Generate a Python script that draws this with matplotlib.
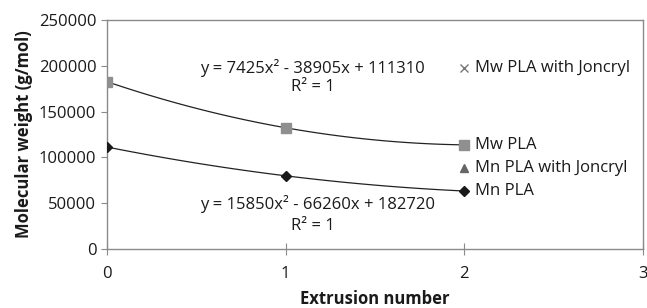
import numpy as np
import matplotlib
matplotlib.use("Agg")
import matplotlib.pyplot as plt

plt.rcParams['font.family'] = ['Open Sans', 'DejaVu Sans']

# data
extrusion = [0, 1, 2]
mw_pla = [182720, 132310, 113600]
mn_pla = [111310, 79830, 63200]
# single points shown at the last extrusion
mw_joncryl = [197500]
mn_joncryl = [88500]
x_last = [2]

eq_mw = "y = 7425x² - 38905x + 111310"
eq_mn = "y = 15850x² - 66260x + 182720"

fig = plt.figure(figsize=(6.47, 3.08), dpi=100)
ax = fig.add_axes([0.165, 0.192, 0.829, 0.743])

# trend lines
xs = np.linspace(0, 2, 100)
for vals in (mw_pla, mn_pla):
    p = np.polyfit(extrusion, vals, 2)
    ax.plot(xs, np.polyval(p, xs), color='#222222', lw=0.9, zorder=2)

ax.plot(extrusion, mw_pla, ls='none', marker='s', ms=7, color='#8f8f8f', zorder=3)
ax.plot(extrusion, mn_pla, ls='none', marker='D', ms=5, color='#1a1a1a', zorder=3)
ax.plot(x_last, mw_joncryl, ls='none', marker='x', ms=6, mew=1, color='#777777')
ax.plot(x_last, mn_joncryl, ls='none', marker='^', ms=6, color='#666666')

# point labels
lab_kw = dict(fontsize=12, color='#1a1a1a', va='center', ha='left')
ax.text(x_last[0] + 0.06, mw_joncryl[0], "Mw PLA with Joncryl", **lab_kw)
ax.text(x_last[0] + 0.06, mw_pla[-1], "Mw PLA", **lab_kw)
ax.text(x_last[0] + 0.06, mn_joncryl[0], "Mn PLA with Joncryl", **lab_kw)
ax.text(x_last[0] + 0.06, mn_pla[-1], "Mn PLA", **lab_kw)

# equations
ax.text(0.52, 197500, eq_mw, fontsize=12, color='#1a1a1a', va='center', ha='left')
ax.text(1.03, 176500, "R² = 1", fontsize=12, color='#1a1a1a', va='center', ha='left')
ax.text(0.52, 48500, eq_mn, fontsize=12, color='#1a1a1a', va='center', ha='left')
ax.text(1.03, 24500, "R² = 1", fontsize=12, color='#1a1a1a', va='center', ha='left')

ax.set_xlim(0, 3)
ax.set_ylim(0, 250000)
ax.set_xticks([0, 1, 2, 3])
ax.set_yticks(range(0, 250001, 50000))

for s in ax.spines.values():
    s.set_color('#8a8a8a')
    s.set_linewidth(1)

ax.tick_params(axis='x', direction='inout', length=8, color='#8a8a8a', labelsize=12, pad=8, labelcolor='#1a1a1a')
ax.tick_params(axis='y', direction='out', length=4, color='#8a8a8a', labelsize=12, labelcolor='#1a1a1a')

ax.set_xlabel("Extrusion number", fontsize=12, fontweight='bold', color='#1a1a1a', labelpad=6)
ax.set_ylabel("Molecular weight (g/mol)", fontsize=12, fontweight='bold', color='#1a1a1a', labelpad=4)

fig.savefig("out.png", dpi=100)
